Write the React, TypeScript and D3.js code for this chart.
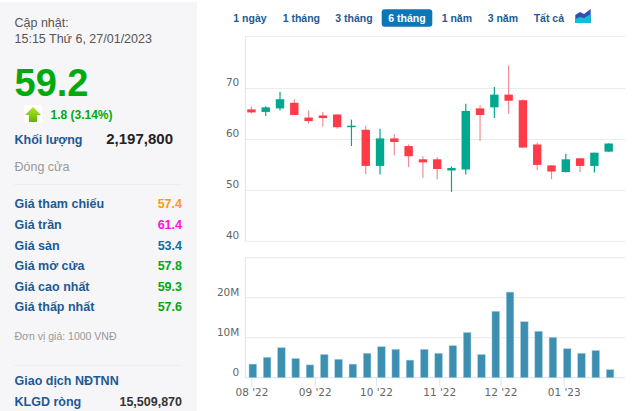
import React, { useEffect, useRef } from 'react';
import * as d3 from 'd3';

const weeks = [
  '2022-08-01', '2022-08-08', '2022-08-15', '2022-08-22', '2022-08-29', '2022-09-05', '2022-09-12',
  '2022-09-19', '2022-09-26', '2022-10-03', '2022-10-10', '2022-10-17', '2022-10-24', '2022-10-31',
  '2022-11-07', '2022-11-14', '2022-11-21', '2022-11-28', '2022-12-05', '2022-12-12', '2022-12-19',
  '2022-12-26', '2023-01-02', '2023-01-09', '2023-01-16', '2023-01-23',
];
const opens = [65.9, 65.4, 66.1, 67.2, 64.3, 64.7, 64.9, 62.4, 61.9, 54.8, 60.2, 58.7, 56.1, 56.1, 53.9, 54.1, 66.1, 66.3, 68.8, 67.7, 59.0, 54.9, 53.6, 56.3, 54.8, 57.6];
const highs = [66.5, 66.5, 69.3, 67.9, 65.7, 65.4, 64.9, 63.9, 62.7, 62.1, 61.0, 59.0, 56.7, 56.5, 54.7, 67.0, 66.7, 70.3, 74.5, 67.9, 59.4, 54.9, 57.2, 56.3, 57.4, 59.2];
const lows = [65.1, 64.6, 65.7, 64.8, 63.1, 62.5, 62.1, 58.7, 53.2, 53.1, 56.9, 54.6, 52.5, 52.2, 49.7, 53.1, 59.7, 64.2, 65.0, 58.4, 54.0, 52.2, 53.5, 53.6, 53.5, 57.6];
const closes = [65.3, 66.3, 67.9, 64.8, 63.6, 64.2, 62.4, 62.7, 54.8, 60.2, 59.5, 56.7, 55.5, 54.2, 54.4, 65.6, 64.8, 68.8, 67.6, 58.4, 55.0, 53.7, 56.1, 54.8, 57.4, 59.2];
const volumes = [3.4, 5.1, 7.5, 4.8, 3.2, 5.8, 4.6, 3.4, 6.1, 7.75, 7.1, 4.4, 7.1, 6.1, 8.0, 11.3, 5.8, 16.6, 21.4, 14, 11.6, 10.1, 7.25, 6.1, 6.8, 2.0];

const priceTicks = [40, 50, 60, 70];
const volumeTicks = [0, 10, 20, 30];
const monthTicks = ['2022-08-01', '2022-09-01', '2022-10-01', '2022-11-01', '2022-12-01', '2023-01-01'];
const monthLabels = ["08 '22", "09 '22", "10 '22", "11 '22", "12 '22", "01 '23"];

const rangeLabels = ['1 ngày', '1 tháng', '3 tháng', '6 tháng', '1 năm', '3 năm', 'Tất cả'];
const rangeStarts = [233.3, 282.7, 335.3, 388.3, 441.7, 487.7, 533.7];

const priceLabels = ['Giá tham chiếu', 'Giá trần', 'Giá sàn', 'Giá mở cửa', 'Giá cao nhất', 'Giá thấp nhất'];
const priceValues = ['57.4', '61.4', '53.4', '57.8', '59.3', '57.6'];
const priceColors = ['#ff9a0a', '#ff10e0', '#0f6f9f', '#00a90f', '#00a90f', '#00a90f'];

const BLUE = '#1d5a94';
const GREEN = '#00aa0c';
const UP = '#00a88f';
const DOWN = '#ff3b47';
const GRID = '#ebebef';
const AXIS = '#dbe3f2';

const App: React.FC = () => {
  const chartRef = useRef<SVGGElement | null>(null);

  useEffect(() => {
    if (!chartRef.current) return;
    const g = d3.select(chartRef.current);
    g.selectAll('*').remove();

    const x = d3.scaleUtc()
      .domain([new Date('2022-07-29'), new Date('2023-01-31')])
      .range([245.3, 625]);
    const yPrice = d3.scaleLinear().domain([40, 70]).range([241.3, 88.5]);
    const yVolume = d3.scaleLinear().domain([0, 30]).range([377.7, 257.7]);

    const fontFamily = '"DejaVu Sans", sans-serif';

    // Price axis and grid
    const priceAxis = g.append('g')
      .attr('transform', 'translate(245.3,0)')
      .call(d3.axisLeft(yPrice).tickValues(priceTicks).tickSize(0).tickPadding(6));
    priceAxis.select('.domain').remove();
    priceAxis.selectAll('text')
      .attr('dy', -2.6)
      .attr('fill', '#666')
      .attr('font-size', 10.5)
      .attr('font-family', fontFamily);

    g.selectAll('.grid-price')
      .data([...priceTicks, 76])
      .join('line')
      .attr('x1', 245.3)
      .attr('x2', 625)
      .attr('y1', d => d === 76 ? 36.5 : yPrice(d))
      .attr('y2', d => d === 76 ? 36.5 : yPrice(d))
      .attr('stroke', GRID);
    g.append('line')
      .attr('x1', 245.3).attr('x2', 245.3)
      .attr('y1', 36.5).attr('y2', 241.3)
      .attr('stroke', AXIS);

    // Candles
    const candle = g.selectAll('.candle')
      .data(weeks)
      .join('g');
    candle.append('line')
      .attr('x1', d => x(new Date(d)))
      .attr('x2', d => x(new Date(d)))
      .attr('y1', (_, i) => yPrice(highs[i]))
      .attr('y2', (_, i) => yPrice(lows[i]))
      .attr('stroke', (_, i) => closes[i] >= opens[i] ? UP : '#f08d94')
      .attr('stroke-width', 1.2);
    candle.append('rect')
      .attr('x', d => x(new Date(d)) - 4.2)
      .attr('width', 8.4)
      .attr('y', (_, i) => yPrice(Math.max(opens[i], closes[i])))
      .attr('height', (_, i) => Math.max(1.5, Math.abs(yPrice(opens[i]) - yPrice(closes[i]))))
      .attr('fill', (_, i) => closes[i] >= opens[i] ? UP : DOWN);

    // Volume axis and grid
    const volumeAxis = g.append('g')
      .attr('transform', 'translate(245.3,0)')
      .call(d3.axisLeft(yVolume)
        .tickValues(volumeTicks.slice(0, 3))
        .tickSize(0)
        .tickPadding(6)
        .tickFormat(d => (+d === 0 ? '0' : `${d}M`)));
    volumeAxis.select('.domain').remove();
    volumeAxis.selectAll('text')
      .attr('dy', -2.2)
      .attr('fill', '#666')
      .attr('font-size', 10.5)
      .attr('font-family', fontFamily);

    g.selectAll('.grid-volume')
      .data(volumeTicks)
      .join('line')
      .attr('x1', 245.3)
      .attr('x2', 625)
      .attr('y1', d => yVolume(d))
      .attr('y2', d => yVolume(d))
      .attr('stroke', d => d === 0 ? AXIS : GRID);
    g.append('line')
      .attr('x1', 245.3).attr('x2', 245.3)
      .attr('y1', 257.7).attr('y2', 377.7)
      .attr('stroke', AXIS);

    // Volume bars
    g.selectAll('.bar')
      .data(weeks)
      .join('rect')
      .attr('x', d => x(new Date(d)) - 2.4)
      .attr('width', 7.6)
      .attr('y', (_, i) => yVolume(volumes[i]))
      .attr('height', (_, i) => yVolume(0) - yVolume(volumes[i]))
      .attr('fill', '#3d8fb2')
      .attr('stroke', '#a8d0e2')
      .attr('stroke-width', 0.5);

    // Month axis
    const monthAxis = g.append('g')
      .attr('transform', 'translate(0,377.7)')
      .call(d3.axisBottom(x)
        .tickValues(monthTicks.map(d => new Date(d)))
        .tickSize(9)
        .tickPadding(2)
        .tickFormat((_, i) => monthLabels[i]));
    monthAxis.select('.domain').remove();
    monthAxis.selectAll('line').attr('stroke', AXIS);
    monthAxis.selectAll('text')
      .attr('fill', '#666')
      .attr('font-size', 10.5)
      .attr('font-family', fontFamily);
  }, []);

  return (
    <svg
      width={640}
      height={411}
      style={{ position: 'absolute', left: 0, top: 0, display: 'block' }}
      fontFamily='"Liberation Sans", Arial, sans-serif'
    >
      <defs>
        <linearGradient id="arrowFill" x1="0" y1="0" x2="0" y2="1">
          <stop offset="0" stopColor="#b6e51e" />
          <stop offset="1" stopColor="#5fb50a" />
        </linearGradient>
      </defs>
      <rect x={0} y={2} width={197} height={409} fill="#f6f5f7" />

      <text x={14.5} y={27} fontSize={12.5} fill="#555">Cập nhật:</text>
      <text x={14.5} y={43} fontSize={12.5} fill="#555">15:15 Thứ 6, 27/01/2023</text>
      <text x={14.5} y={95.5} fontSize={38} fontWeight="bold" fill={GREEN}>59.2</text>
      <rect x={24} y={105} width={18} height={18} fill="#fff" />
      <path d="M33 107L41 115H37V122H29V115H25Z" fill="url(#arrowFill)" />
      <text x={50.5} y={119} fontSize={12} fontWeight="bold" fill={GREEN}>1.8 (3.14%)</text>
      <text x={14.5} y={144} fontSize={12.5} fontWeight="bold" fill={BLUE}>Khối lượng</text>
      <text x={173} y={143.5} fontSize={15} fontWeight="bold" fill="#222" textAnchor="end">2,197,800</text>
      <text x={14.5} y={171} fontSize={12.5} fill="#999">Đóng cửa</text>
      <line x1={14} x2={182} y1={184.5} y2={184.5} stroke="#eee" />

      {priceLabels.map((label, i) => (
        <g key={label}>
          <text x={14.5} y={208.3 + i * 20.6} fontSize={12.5} fontWeight="bold" fill={BLUE}>{label}</text>
          <text x={182} y={208.3 + i * 20.6} fontSize={12.5} fontWeight="bold" fill={priceColors[i]} textAnchor="end">{priceValues[i]}</text>
        </g>
      ))}

      <text x={14.5} y={340} fontSize={10.5} fill="#999">Đơn vị giá: 1000 VNĐ</text>
      <line x1={14} x2={182} y1={365.5} y2={365.5} stroke="#eee" />
      <text x={14.5} y={385} fontSize={12.5} fontWeight="bold" fill={BLUE}>Giao dịch NĐTNN</text>
      <text x={14.5} y={406} fontSize={12.5} fontWeight="bold" fill={BLUE}>KLGD ròng</text>
      <text x={182} y={406} fontSize={12.5} fontWeight="bold" fill="#333" textAnchor="end">15,509,870</text>

      <rect x={381.7} y={9.3} width={50.6} height={17.4} rx={3} fill="#0b76b8" />
      {rangeLabels.map((label, i) => (
        <text key={label} x={rangeStarts[i]} y={21.5} fontSize={10.5} fontWeight="bold" fill={i === 3 ? '#fff' : BLUE}>{label}</text>
      ))}
      <path d="M575.3 23V15L580 12L584 14L590.7 9V23Z" fill="#2f4fb5" />
      <path d="M575.3 23V19L580 17L584 18L590.7 14V23Z" fill="#14bcd6" />

      <g ref={chartRef} />
    </svg>
  );
};

export default App;
